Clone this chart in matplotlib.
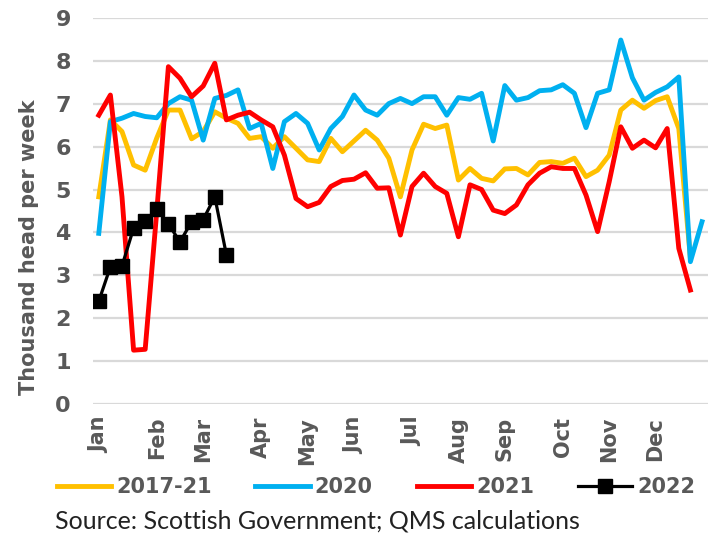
import matplotlib
matplotlib.use("Agg")
import matplotlib.pyplot as plt
from matplotlib.font_manager import FontProperties
import numpy as np

# weekly values, thousand head per week
avg_1721 = [4.83, 6.62, 6.35, 5.57, 5.45, 6.2, 6.85, 6.85, 6.18, 6.35,
            6.81, 6.66, 6.54, 6.19, 6.23, 5.96, 6.23, 5.96, 5.69, 5.65,
            6.19, 5.88, 6.13, 6.38, 6.15, 5.73, 4.83, 5.92, 6.52, 6.42,
            6.5, 5.22, 5.49, 5.26, 5.2, 5.48, 5.49, 5.34, 5.63, 5.65,
            5.61, 5.73, 5.3, 5.45, 5.8, 6.85, 7.08, 6.89, 7.07, 7.16,
            6.42, 3.4]
y2020 = [3.98, 6.58, 6.66, 6.77, 6.7, 6.67, 7.0, 7.16, 7.08, 6.15,
         7.12, 7.19, 7.32, 6.42, 6.54, 5.49, 6.58, 6.77, 6.54, 5.92,
         6.42, 6.7, 7.2, 6.85, 6.73, 7.0, 7.12, 7.0, 7.16, 7.16,
         6.73, 7.14, 7.1, 7.24, 6.13, 7.42, 7.08, 7.14, 7.3, 7.32,
         7.44, 7.24, 6.44, 7.24, 7.32, 8.48, 7.6, 7.08, 7.26, 7.39,
         7.62, 3.32, 4.25]
y2021 = [6.73, 7.2, 4.83, 1.26, 1.28, 4.5, 7.86, 7.59, 7.16, 7.41,
         7.94, 6.62, 6.73, 6.8, 6.62, 6.46, 5.8, 4.79, 4.6, 4.7,
         5.07, 5.21, 5.24, 5.39, 5.03, 5.04, 3.94, 5.07, 5.38, 5.07,
         4.91, 3.9, 5.11, 5.0, 4.52, 4.44, 4.64, 5.11, 5.38, 5.53,
         5.49, 5.49, 4.87, 4.02, 5.18, 6.46, 5.96, 6.15, 5.97, 6.42,
         3.63, 2.66]
y2022 = [2.4, 3.2, 3.22, 4.1, 4.27, 4.54, 4.2, 3.78, 4.25, 4.3,
         4.83, 3.48]

months = ["Jan", "Feb", "Mar", "Apr", "May", "Jun",
          "Jul", "Aug", "Sep", "Oct", "Nov", "Dec"]
month_week = [0, 5, 9, 14, 18, 22, 27, 31, 35, 40, 44, 48]
n_weeks = 53

grey = "#595959"


def bfont(size):
    return FontProperties(family="DejaVu Sans", weight="bold", size=size)


fig = plt.figure(figsize=(7.12, 5.36), dpi=100)
ax = fig.add_axes([0.1306, 0.2457, 0.8635, 0.7213])

ax.plot(np.arange(len(avg_1721)), avg_1721, color="#FFC000", lw=3.5,
        label="2017-21")
ax.plot(np.arange(len(y2020)), y2020, color="#00B0F0", lw=3.5,
        label="2020")
ax.plot(np.arange(len(y2021)), y2021, color="#FF0000", lw=3.5,
        label="2021")
ax.plot(np.arange(len(y2022)), y2022, color="black", lw=2.3,
        marker="s", markersize=9.5, label="2022")

ax.set_xlim(-0.5, n_weeks - 0.5)
ax.set_ylim(0, 9)
ax.set_yticks(range(0, 10))
ax.set_xticks(month_week)
ax.set_xticklabels(months, rotation=90, fontproperties=bfont(15), color=grey)
for lab in ax.get_yticklabels():
    lab.set_fontproperties(bfont(16))
    lab.set_color(grey)
ax.tick_params(axis="both", length=0)
ax.tick_params(axis="y", pad=16)
ax.tick_params(axis="x", pad=9)
ax.grid(axis="y", color="#d9d9d9", lw=1.6)
ax.set_axisbelow(True)
for s in ax.spines.values():
    s.set_visible(False)

ax.set_ylabel("Thousand head per week", fontproperties=bfont(15), color=grey)
ax.yaxis.set_label_coords(-0.088, 0.407)

fig.legend(loc="center", bbox_to_anchor=(0.528, 0.091), ncol=4, frameon=False,
           prop=bfont(15), handlelength=2.6, handletextpad=0.25,
           columnspacing=2.1, labelcolor=grey)

fig.text(0.077, 0.014, "Source: Scottish Government; QMS calculations",
         fontfamily="Lato", fontsize=18, color="#222222")

fig.savefig("out.png", dpi=100)
